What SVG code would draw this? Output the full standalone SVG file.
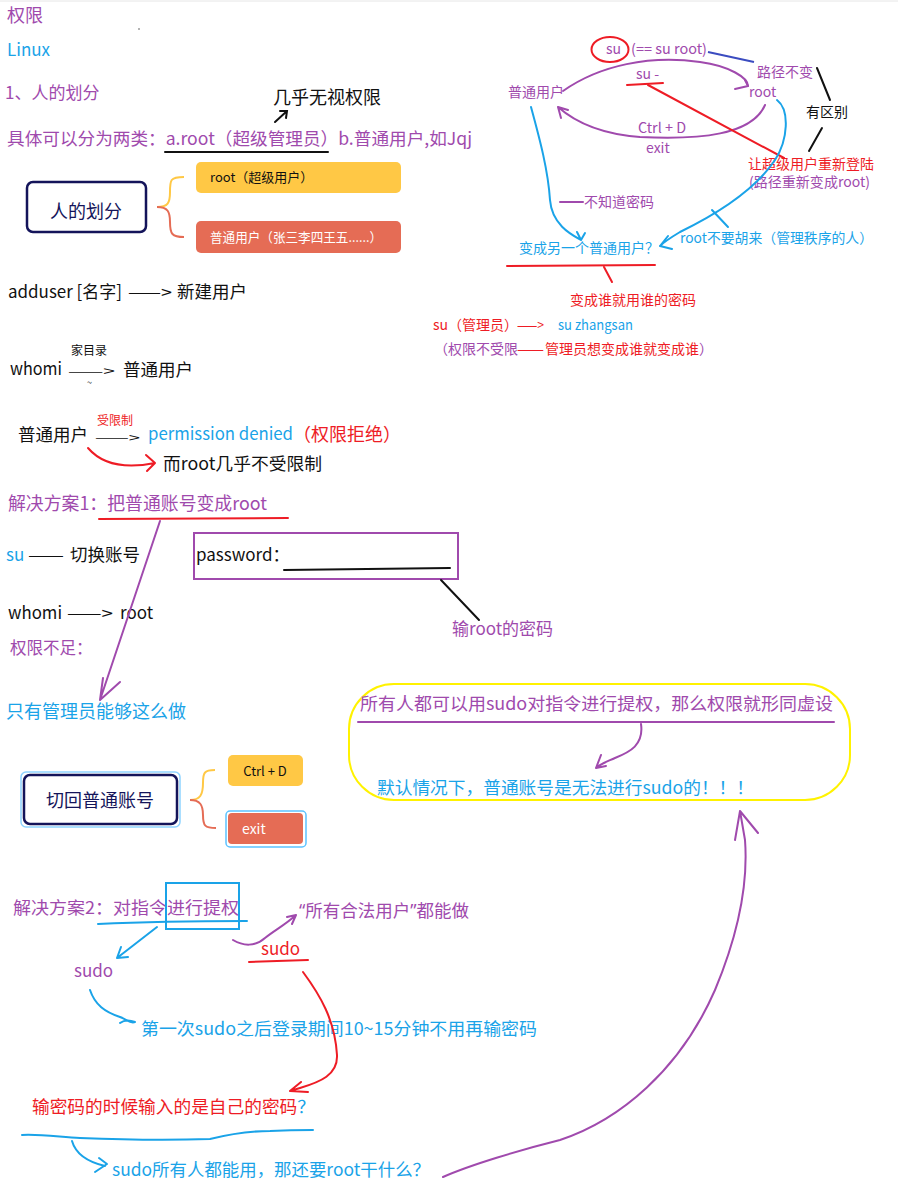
<svg xmlns="http://www.w3.org/2000/svg" width="898" height="1197" viewBox="0 0 898 1197">
<style>
text{font-family:"Noto Sans CJK SC","Noto Sans",sans-serif;}
.lat{font-family:"Noto Sans",sans-serif;}
.p{fill:#a04aad}.b{fill:#1aa3e8}.r{fill:#ee1c25}.k{fill:#111}
.s13{font-size:13px}.s14{font-size:14px}.s16{font-size:16px}.s17{font-size:17px}.s175{font-size:17.5px}.s18{font-size:18px}
.lp{stroke:#a04aad;fill:none;stroke-width:2;stroke-linecap:round;stroke-linejoin:round}
.lb{stroke:#1aa3e8;fill:none;stroke-width:2;stroke-linecap:round;stroke-linejoin:round}
.lr{stroke:#ee1c25;fill:none;stroke-width:2;stroke-linecap:round;stroke-linejoin:round}
.lk{stroke:#111;fill:none;stroke-width:2;stroke-linecap:round}
.navy{fill:#fff;stroke:#14145a;stroke-width:2.5}
</style>
<rect width="898" height="1197" fill="#fff"/>
<line x1="0" y1="1" x2="898" y2="1" stroke="#e6e6e6" stroke-width="1"/>

<g id="texts-left">
<text x="7" y="22" class="p s18">权限</text>
<circle cx="139" cy="29" r="0.8" fill="#555"/>
<text x="7" y="56" class="b s17">Linux</text>
<text x="5" y="99" class="p s17">1、人的划分</text>
<text x="273" y="104" class="k s18">几乎无视权限</text>
<text x="7" y="145" class="p s175" textLength="465" lengthAdjust="spacingAndGlyphs">具体可以分为两类：a.root（超级管理员）b.普通用户,如Jqj</text>
<text x="8" y="298" class="k s17" textLength="114" lengthAdjust="spacingAndGlyphs">adduser [名字]</text>
<text x="128" y="298" class="k s16" textLength="44" lengthAdjust="spacingAndGlyphs">——&gt;</text>
<text x="177" y="298" class="k s175">新建用户</text>
<text x="10" y="375" class="k s17" textLength="52" lengthAdjust="spacingAndGlyphs">whomi</text>
<text x="71" y="355" class="k" font-size="12">家目录</text>
<text x="68" y="376" class="k" font-size="13" textLength="47" lengthAdjust="spacingAndGlyphs">——&gt;</text>
<text x="87" y="386" class="k" font-size="9">~</text>
<text x="123" y="376" class="k s175">普通用户</text>
<text x="18" y="441" class="k s175">普通用户</text>
<text x="97" y="425" class="r" font-size="12">受限制</text>
<text x="95" y="442" class="k" font-size="12" textLength="45" lengthAdjust="spacingAndGlyphs">——&gt;</text>
<text x="148" y="440" class="b s17" textLength="145" lengthAdjust="spacingAndGlyphs">permission denied</text>
<text x="293" y="441" class="r s18">（权限拒绝）</text>
<text x="163" y="470" class="k s175" textLength="159" lengthAdjust="spacingAndGlyphs">而root几乎不受限制</text>
<text x="8" y="510" class="p s18" textLength="259" lengthAdjust="spacingAndGlyphs">解决方案1：把普通账号变成root</text>
<text x="6" y="561" class="b s17">su</text>
<text x="28" y="561" class="k s16" textLength="36" lengthAdjust="spacingAndGlyphs">——</text>
<text x="70" y="561" class="k s175">切换账号</text>
<text x="8" y="619" class="k s17" textLength="54" lengthAdjust="spacingAndGlyphs">whomi</text>
<text x="67" y="619" class="k s16" textLength="46" lengthAdjust="spacingAndGlyphs">——&gt;</text>
<text x="120" y="619" class="k s17">root</text>
<text x="10" y="654" class="p" font-size="16.5">权限不足：</text>
<text x="6" y="718" class="b s18">只有管理员能够这么做</text>
<text x="452" y="635" class="p s17">输root的密码</text>
<text x="13" y="914" class="p s175" textLength="226" lengthAdjust="spacingAndGlyphs">解决方案2：对指令进行提权</text>
<text x="299" y="917" class="p s175"><tspan class="lat">“</tspan>所有合法用户<tspan class="lat">”</tspan>都能做</text>
<text x="261" y="955" class="r s17">sudo</text>
<text x="74" y="977" class="p s17">sudo</text>
<text x="141" y="1035" class="b s175" textLength="396" lengthAdjust="spacingAndGlyphs">第一次sudo之后登录期间10~15分钟不用再输密码</text>
<text x="32" y="1113" class="s175" textLength="283" lengthAdjust="spacingAndGlyphs"><tspan class="r">输密码的时候输入的是自己的密码</tspan><tspan class="b">？</tspan></text>
<text x="112" y="1176" class="b s175" textLength="318" lengthAdjust="spacingAndGlyphs">sudo所有人都能用，那还要root干什么？</text>
</g>

<g id="texts-right">
<text x="606" y="54" class="p s14">su</text>
<text x="631" y="54" class="p s14" textLength="76" lengthAdjust="spacingAndGlyphs">(== su root)</text>
<text x="757" y="77" class="p s14">路径不变</text>
<text x="806" y="117" class="k s14">有区别</text>
<text x="636" y="79" class="p s14">su -</text>
<text x="508" y="97" class="p s14">普通用户</text>
<text x="749" y="97" class="p s14">root</text>
<text x="638" y="133" class="p s14" textLength="48" lengthAdjust="spacingAndGlyphs">Ctrl + D</text>
<text x="646" y="153" class="p s14">exit</text>
<text x="748" y="169" class="r s14">让超级用户重新登陆</text>
<text x="749" y="187" class="p s14" textLength="121" lengthAdjust="spacingAndGlyphs">(路径重新变成root)</text>
<text x="584" y="207" class="p s14">不知道密码</text>
<text x="680" y="243" class="b s14" textLength="193" lengthAdjust="spacingAndGlyphs">root不要胡来（管理秩序的人）</text>
<text x="519" y="253" class="b s14" textLength="140" lengthAdjust="spacingAndGlyphs">变成另一个普通用户？</text>
<text x="570" y="305" class="r s14">变成谁就用谁的密码</text>
<text x="433" y="330" class="r s14">su（管理员）</text>
<text x="517" y="330" class="r s14" textLength="27" lengthAdjust="spacingAndGlyphs">——&gt;</text>
<text x="558" y="330" class="b s14" textLength="75" lengthAdjust="spacingAndGlyphs">su zhangsan</text>
<text x="434" y="354" class="p s14">（权限不受限</text>
<text x="517" y="354" class="r s14" textLength="27" lengthAdjust="spacingAndGlyphs">——</text>
<text x="545" y="354" class="r s14">管理员想变成谁就变成谁</text>
<text x="699" y="354" class="p s14">）</text>
</g>

<g id="node-people">
<rect x="27" y="182" width="119" height="50" rx="6" class="navy"/>
<text x="86" y="218" text-anchor="middle" font-size="18" fill="#14145a">人的划分</text>
</g>
<g id="node-root">
<rect x="196" y="162" width="205" height="31" rx="5" fill="#ffc845"/>
<text x="210" y="182" class="k s13">root（超级用户）</text>
</g>
<g id="node-normal">
<rect x="196" y="221" width="205" height="32" rx="5" fill="#e56c55"/>
<text x="210" y="242" fill="#fff" class="s13" textLength="172" lengthAdjust="spacingAndGlyphs">普通用户（张三李四王五......）</text>
</g>
<g id="node-password">
<rect x="194" y="533" width="264" height="46" fill="#fff" stroke="#a04aad" stroke-width="2"/>
<text x="196" y="561" class="k s17">password：</text>
<path d="M284 570 L450 568" class="lk"/>
</g>
<g id="node-sudo-note">
<rect x="349" y="684" width="501" height="116" rx="45" fill="none" stroke="#fff200" stroke-width="2"/>
<text x="360" y="710" class="p s175" textLength="473" lengthAdjust="spacingAndGlyphs">所有人都可以用sudo对指令进行提权，那么权限就形同虚设</text>
<path d="M358 722 L834 722" class="lp"/>
<text x="377" y="794" class="b s175" textLength="377" lengthAdjust="spacingAndGlyphs">默认情况下，普通账号是无法进行sudo的！！！</text>
</g>
<g id="node-switch">
<rect x="21" y="772" width="159" height="55" rx="5" fill="none" stroke="#8fd3ff" stroke-width="1.5"/>
<rect x="24" y="775" width="153" height="49" rx="6" class="navy"/>
<text x="100" y="807" text-anchor="middle" font-size="18" fill="#14145a">切回普通账号</text>
</g>
<g id="node-ctrl">
<rect x="228" y="755" width="75" height="31" rx="5" fill="#ffc845"/>
<text x="265" y="776" text-anchor="middle" class="k s13">Ctrl + D</text>
</g>
<g id="node-exit">
<rect x="226" y="811" width="80" height="36" rx="4" fill="none" stroke="#5cc2ff" stroke-width="1.5"/>
<rect x="228" y="813" width="75" height="31" rx="4" fill="#e56c55"/>
<text x="242" y="834" fill="#fff" class="s14">exit</text>
</g>
<g id="node-box2">
<rect x="166" y="883" width="73" height="46" fill="none" stroke="#1aa3e8" stroke-width="2"/>
</g>

<g id="connectors">
<path d="M184 177 C170 177 170 180 170 192 C170 203 168 207 157 207" fill="none" stroke="#ffc845" stroke-width="2"/>
<path d="M157 207 C168 207 170 212 170 222 C170 234 172 237 184 237" fill="none" stroke="#e56c55" stroke-width="2"/>
<path d="M215 770 C204 770 203 773 203 783 C203 795 200 800 190 800" fill="none" stroke="#ffc845" stroke-width="2"/>
<path d="M190 800 C200 800 203 805 203 815 C203 826 205 828 216 828" fill="none" stroke="#e56c55" stroke-width="2"/>
<path d="M275 122 L287 111 M280 111 L287 111 L286 118" class="lk"/>
<path d="M165 152 L328 152" class="lk"/>
<ellipse cx="610" cy="49.5" rx="18.5" ry="12.5" fill="none" stroke="#ee1c25" stroke-width="2"/>
<path d="M708 52 L754 62" stroke="#3b4cc0" stroke-width="2" fill="none"/>
<path d="M817 68 L830 100" class="lk"/>
<path d="M822 128 L809 151" class="lk"/>
<path d="M627 85 L663 83" class="lr"/>
<path d="M563 91 C600 65 650 55 700 62 C730 66 748 78 748 86" class="lp"/>
<path d="M745 80 L748 86 L735 89" class="lp"/>
<path d="M765 105 C752 135 700 140 640 137 C600 134 575 122 558 107 M558 107 L561 118 M558 107 L568 110" class="lp"/>
<path d="M648 85 L784 158" class="lr"/>
<path d="M531 107 C540 140 548 170 550 200 C552 225 572 235 581 240 M577 232 L581 240 L585 233" class="lb"/>
<path d="M560 202 L583 202" class="lp"/>
<path d="M777 100 C790 110 788 140 775 160 C755 190 715 215 680 232 C670 238 664 242 660 246 M660 246 L668 236 M660 246 L672 249" class="lb"/>
<path d="M712 210 L728 227" class="lb"/>
<path d="M507 266 L655 265" class="lr"/>
<path d="M604 267 L612 282" class="lr"/>
<path d="M88 448 C100 462 120 470 155 463 M146 455 L155 463 L147 471" class="lr"/>
<path d="M99 519 L288 518" class="lr"/>
<path d="M160 521 L100 700 M100 700 L120 682 M100 700 L103 678" class="lp"/>
<path d="M441 580 L479 620" class="lk"/>
<path d="M641 724 C644 745 630 752 615 758 C606 762 600 764 596 768 M596 768 L601 755 M596 768 L606 766" class="lp"/>
<path d="M98 924 C140 922 200 921 247 921" class="lb"/>
<path d="M157 927 L117 958 M117 958 L121 947 M117 958 L128 957" class="lb"/>
<path d="M90 990 C95 1005 105 1012 120 1017 C128 1020 130 1024 135 1022 C130 1020 124 1020 120 1023" class="lb"/>
<path d="M233 940 C243 946 255 947 265 938 C275 930 285 925 296 915 M287 917 L296 915 L292 924" class="lp"/>
<path d="M249 962 L308 960" class="lr"/>
<path d="M303 972 C320 995 335 1020 337 1055 C338 1075 320 1082 300 1088 L290 1091 M290 1091 L301 1082 M290 1091 L308 1092" class="lr"/>
<path d="M22 1135 C40 1134 60 1137 80 1138 C130 1140 180 1140 210 1139 C230 1134 250 1131 270 1131 C290 1130 300 1130 313 1130" class="lb"/>
<path d="M72 1141 C76 1155 88 1162 105 1166 M99 1158 L107 1164 L95 1172" class="lb"/>
<path d="M443 1177 C470 1165 520 1150 560 1140 C620 1120 680 1070 715 990 C740 930 748 880 745 840 L740 811 M740 811 L735 840 M740 811 L758 833" class="lp"/>
</g>
</svg>
